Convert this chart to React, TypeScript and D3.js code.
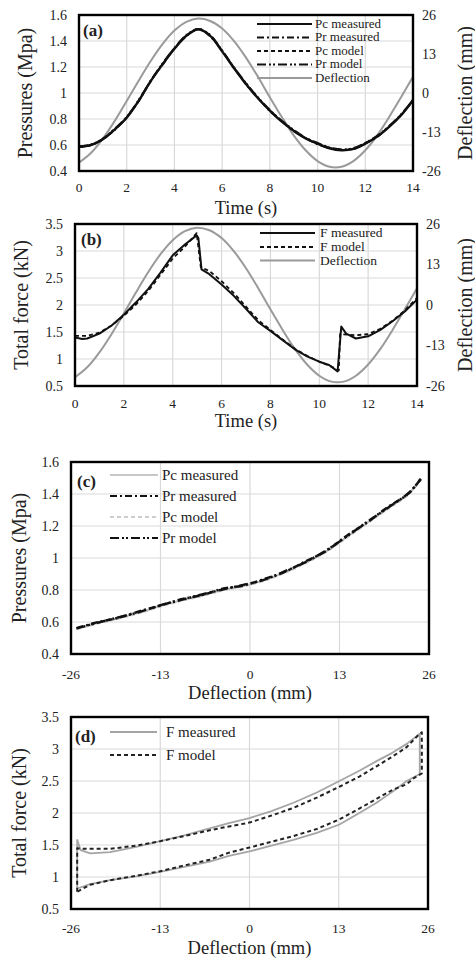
import React from "react";
import * as d3 from "d3";

// ---------- DATA ----------
const timeTicks = [0, 2, 4, 6, 8, 10, 12, 14];
const deflTicks = [-26, -13, 0, 13, 26];
const pressureTicks = [0.4, 0.6, 0.8, 1.0, 1.2, 1.4, 1.6];
const forceTicks = [0.5, 1.0, 1.5, 2.0, 2.5, 3.0, 3.5];

// panel (a) / (b) time base
const time = [0, 0.5, 1, 1.5, 2, 2.5, 3, 3.5, 4, 4.5, 5, 5.5, 6, 6.5, 7, 7.5, 8, 8.5, 9, 9.5, 10, 10.5, 11, 11.5, 12, 12.5, 13, 13.5, 14];
const deflection = [-23.2, -20.0, -15.2, -9.3, -2.7, 4.1, 10.6, 16.3, 20.8, 23.7, 24.8, 24.0, 21.5, 17.3, 11.8, 5.4, -1.4, -8.0, -14.1, -19.1, -22.7, -24.6, -24.6, -22.7, -19.1, -14.1, -8.0, -1.4, 5.4];

const pcMeasuredA = [0.587, 0.600, 0.645, 0.720, 0.810, 0.940, 1.090, 1.220, 1.340, 1.440, 1.490, 1.440, 1.320, 1.190, 1.070, 0.960, 0.865, 0.780, 0.710, 0.650, 0.610, 0.575, 0.560, 0.570, 0.610, 0.665, 0.740, 0.830, 0.945];
const prMeasuredA = [0.590, 0.598, 0.650, 0.715, 0.818, 0.935, 1.095, 1.215, 1.345, 1.435, 1.495, 1.435, 1.325, 1.195, 1.065, 0.965, 0.860, 0.785, 0.705, 0.655, 0.605, 0.578, 0.565, 0.568, 0.615, 0.662, 0.745, 0.828, 0.950];
const pcModelA = [0.585, 0.600, 0.642, 0.722, 0.812, 0.942, 1.088, 1.222, 1.342, 1.442, 1.488, 1.442, 1.322, 1.192, 1.072, 0.962, 0.866, 0.782, 0.712, 0.652, 0.612, 0.577, 0.562, 0.572, 0.612, 0.667, 0.742, 0.832, 0.942];
const prModelA = [0.588, 0.603, 0.647, 0.725, 0.815, 0.945, 1.091, 1.225, 1.345, 1.445, 1.491, 1.445, 1.325, 1.195, 1.075, 0.965, 0.869, 0.785, 0.715, 0.655, 0.615, 0.580, 0.565, 0.575, 0.615, 0.670, 0.745, 0.835, 0.945];

// panel (b)
const timeFMeasured = [0, 0.3, 0.5, 1, 1.5, 2, 2.5, 3, 3.5, 4, 4.5, 4.98, 5.05, 5.18, 5.5, 6, 6.5, 7, 7.5, 8, 8.5, 9, 9.5, 10, 10.4, 10.75, 10.9, 11.1, 11.5, 12, 12.5, 13, 13.5, 14];
const fMeasured = [1.40, 1.37, 1.38, 1.47, 1.62, 1.82, 2.05, 2.30, 2.60, 2.92, 3.12, 3.29, 3.24, 2.66, 2.57, 2.38, 2.17, 1.93, 1.68, 1.52, 1.35, 1.18, 1.05, 0.95, 0.89, 0.77, 1.60, 1.47, 1.38, 1.42, 1.54, 1.70, 1.88, 2.10];
const timeFModel = [0, 0.5, 1, 1.5, 2, 2.5, 3, 3.5, 4, 4.5, 4.98, 5.15, 5.5, 6, 6.5, 7, 7.5, 8, 8.5, 9, 9.5, 10, 10.5, 10.8, 10.85, 11.5, 12, 12.5, 13, 13.5, 14];
const fModel = [1.43, 1.43, 1.49, 1.62, 1.80, 2.01, 2.26, 2.56, 2.86, 3.08, 3.33, 2.70, 2.63, 2.44, 2.22, 1.97, 1.72, 1.54, 1.36, 1.19, 1.06, 0.95, 0.86, 0.79, 1.46, 1.44, 1.46, 1.56, 1.71, 1.90, 2.13];

// panel (c)
const deflC = [-25.2, -22, -19, -16, -13, -10, -7, -4, -1, 2, 5, 8, 11, 14, 17, 20, 23, 24.8];
const pcMeasuredC = [0.558, 0.595, 0.625, 0.660, 0.700, 0.735, 0.765, 0.800, 0.825, 0.860, 0.910, 0.970, 1.040, 1.130, 1.220, 1.310, 1.400, 1.490];
const prMeasuredC = [0.562, 0.600, 0.628, 0.668, 0.703, 0.742, 0.768, 0.808, 0.828, 0.868, 0.912, 0.978, 1.042, 1.138, 1.222, 1.318, 1.402, 1.495];
const pcModelC = [0.555, 0.592, 0.622, 0.657, 0.697, 0.732, 0.762, 0.797, 0.822, 0.857, 0.906, 0.966, 1.036, 1.126, 1.216, 1.306, 1.396, 1.488];
const prModelC = [0.560, 0.597, 0.630, 0.663, 0.705, 0.738, 0.772, 0.803, 0.832, 0.863, 0.916, 0.973, 1.046, 1.133, 1.226, 1.313, 1.405, 1.492];

// panel (d) hysteresis loops
const deflMeasuredD = [-25.1, -25.1, -24.6, -23.2, -20.3, -16.5, -13, -9.5, -5.8, -3, 0, 3.2, 6.4, 9.8, 13.1, 16, 18.5, 20.8, 22.9, 24.8, 24.8, 22.9, 20.8, 18.5, 16, 13.1, 9.8, 6.4, 3.2, 0, -3, -5.8, -9.5, -13, -16.5, -20.3, -23.2, -25.1];
const fMeasuredD = [0.82, 1.58, 1.42, 1.37, 1.39, 1.47, 1.56, 1.65, 1.76, 1.84, 1.92, 2.03, 2.16, 2.32, 2.50, 2.66, 2.81, 2.94, 3.08, 3.24, 2.61, 2.50, 2.33, 2.16, 2.00, 1.82, 1.69, 1.58, 1.49, 1.40, 1.33, 1.24, 1.16, 1.08, 1.01, 0.95, 0.89, 0.82];
const deflModelD = [-25.1, -25.1, -24, -20.3, -16.5, -13, -9.5, -5.8, -3, 0, 3.2, 6.4, 9.8, 13.1, 16, 18.5, 20.8, 22.9, 24.8, 25.1, 25.1, 24.0, 22.9, 20.8, 18.5, 16, 13.1, 9.8, 6.4, 3.2, 0, -3, -5.8, -9.5, -13, -16.5, -20.3, -23.2, -25.1];
const fModelD = [0.77, 1.45, 1.44, 1.44, 1.49, 1.56, 1.64, 1.73, 1.79, 1.85, 1.96, 2.08, 2.24, 2.41, 2.57, 2.73, 2.88, 3.03, 3.24, 3.26, 2.62, 2.55, 2.45, 2.36, 2.22, 2.07, 1.90, 1.75, 1.64, 1.55, 1.46, 1.38, 1.27, 1.18, 1.09, 1.02, 0.95, 0.88, 0.77];

// ---------- STYLES ----------
const FONT = '"Liberation Serif", "Times New Roman", Times, serif';
type LStyle = { stroke: string; width: number; dash?: string };
const S_SOLID: LStyle = { stroke: "#111", width: 2 };
const S_DASHDOT: LStyle = { stroke: "#111", width: 1.8, dash: "7,3,2,3" };
const S_DASH: LStyle = { stroke: "#111", width: 1.8, dash: "4,3" };
const S_DASHDOTDOT: LStyle = { stroke: "#111", width: 2.2, dash: "9,3,2,2,2,3" };
const S_DEFL: LStyle = { stroke: "#9a9a9a", width: 2 };
const S_LIGHT: LStyle = { stroke: "#b5b5b5", width: 1.6 };
const S_LIGHTDASH: LStyle = { stroke: "#bdbdbd", width: 1.6, dash: "4,3" };
const S_GRAYMEAS: LStyle = { stroke: "#a5a5a5", width: 1.8 };
const S_MODELDASH: LStyle = { stroke: "#222", width: 2, dash: "4,3" };

type Series = { x: number[]; y: number[]; style: LStyle; right?: boolean; curve?: "smooth" | "linear"; width?: number };
type LegendRow = { y: number; text: string; style: LStyle };

interface PanelProps {
  id: string;
  L: number; R: number; T: number; B: number;
  xDomain: [number, number]; xTicks: number[];
  yDomain: [number, number]; yTicks: number[];
  rightTicks?: number[];
  xTitle: string; yTitle: string; rightTitle?: string;
  label: string; labelX: number; labelY: number;
  legendX1: number; legendX2: number; legendTX: number; legend: LegendRow[]; legendFont: number;
  series: Series[];
  xLabelDy: number; xTitleDy: number; yTitleX: number;
}

const fmt = (v: number) => String(+v.toFixed(2));

function Panel(p: PanelProps) {
  const x = d3.scaleLinear().domain(p.xDomain).range([p.L, p.R]);
  const y = d3.scaleLinear().domain(p.yDomain).range([p.B, p.T]);
  const yR = d3.scaleLinear().domain([-26, 26]).range([p.B, p.T]);
  const cy = (p.T + p.B) / 2;
  return (
    <g>
      <defs>
        <clipPath id={`clip-${p.id}`}>
          <rect x={p.L} y={p.T - 2} width={p.R - p.L} height={p.B - p.T + 4} />
        </clipPath>
      </defs>
      {p.yTicks.map((t) => (
        <line key={"gy" + t} x1={p.L} x2={p.R} y1={y(t)} y2={y(t)} stroke="#d9d9d9" strokeWidth={1.2} />
      ))}
      {p.xTicks.map((t) => (
        <line key={"gx" + t} x1={x(t)} x2={x(t)} y1={p.T} y2={p.B} stroke="#d9d9d9" strokeWidth={1.2} />
      ))}
      <g clipPath={`url(#clip-${p.id})`}>
        {p.series.map((s, i) => {
          const ys = s.right ? yR : y;
          const gen = d3
            .line<number>()
            .x((_, k) => x(s.x[k]))
            .y((v) => ys(v))
            .curve(s.curve === "linear" ? d3.curveLinear : d3.curveCatmullRom.alpha(0.5));
          return (
            <path key={i} d={gen(s.y) || ""} fill="none" stroke={s.style.stroke} strokeWidth={s.width ?? s.style.width}
              strokeDasharray={s.style.dash} strokeLinejoin="round" />
          );
        })}
      </g>
      <rect x={p.L} y={p.T} width={p.R - p.L} height={p.B - p.T} fill="none" stroke="#000" strokeWidth={2.4} />
      <text x={p.labelX} y={p.labelY} fontFamily={FONT} fontSize={17} fontWeight="bold" fill="#222">{p.label}</text>
      {p.legend.map((r) => (
        <g key={r.text}>
          <line x1={p.legendX1} x2={p.legendX2} y1={r.y} y2={r.y} stroke={r.style.stroke} strokeWidth={r.style.width}
            strokeDasharray={r.style.dash} />
          <text x={p.legendTX} y={r.y + p.legendFont * 0.3} fontFamily={FONT} fontSize={p.legendFont} fill="#222">{r.text}</text>
        </g>
      ))}
      {p.yTicks.map((t) => (
        <text key={"yl" + t} x={p.L - 12} y={y(t)} dy="0.35em" textAnchor="end" fontFamily={FONT} fontSize={14} fill="#222">
          {fmt(t)}
        </text>
      ))}
      {p.rightTicks &&
        p.rightTicks.map((t) => (
          <text key={"rl" + t} x={p.R + 9} y={yR(t)} dy="0.35em" textAnchor="start" fontFamily={FONT} fontSize={14} fill="#222">
            {fmt(t)}
          </text>
        ))}
      {p.xTicks.map((t) => (
        <text key={"xl" + t} x={x(t)} y={p.B + p.xLabelDy} textAnchor="middle" fontFamily={FONT} fontSize={13.5} fill="#222">
          {fmt(t)}
        </text>
      ))}
      <text x={(p.L + p.R) / 2} y={p.B + p.xTitleDy} textAnchor="middle" fontFamily={FONT} fontSize={18.5} fill="#222">
        {p.xTitle}
      </text>
      <text transform={`translate(${p.yTitleX},${cy}) rotate(-90)`} textAnchor="middle" dy="0.35em" fontFamily={FONT} fontSize={20} fill="#222">
        {p.yTitle}
      </text>
      {p.rightTitle && (
        <text transform={`translate(465,${cy}) rotate(-90)`} textAnchor="middle" dy="0.35em" fontFamily={FONT} fontSize={20} fill="#222">
          {p.rightTitle}
        </text>
      )}
    </g>
  );
}

export default function App() {
  return (
    <svg width={475} height={959} viewBox="0 0 475 959"
      style={{ position: "absolute", left: 0, top: 0, background: "#fff" }}>
      <rect x={0} y={0} width={475} height={959} fill="#fff" />
      <Panel
        id="a" L={79} R={413} T={15} B={171}
        xDomain={[0, 14]} xTicks={timeTicks}
        yDomain={[0.4, 1.6]} yTicks={pressureTicks} rightTicks={deflTicks}
        xTitle="Time (s)" yTitle="Pressures (Mpa)" rightTitle="Deflection (mm)"
        label="(a)" labelX={83} labelY={36}
        legendX1={257} legendX2={312} legendTX={315} legendFont={13}
        legend={[
          { y: 24, text: "Pc measured", style: S_SOLID },
          { y: 37.5, text: "Pr measured", style: S_DASHDOT },
          { y: 51, text: "Pc model", style: S_DASH },
          { y: 64.5, text: "Pr model", style: S_DASHDOTDOT },
          { y: 78, text: "Deflection", style: S_DEFL },
        ]}
        series={[
          { x: time, y: deflection, style: S_DEFL, right: true },
          { x: time, y: pcMeasuredA, style: S_SOLID, width: 2.4 },
          { x: time, y: prMeasuredA, style: S_DASHDOT },
          { x: time, y: pcModelA, style: S_DASH },
          { x: time, y: prModelA, style: S_DASHDOTDOT },
        ]}
        xLabelDy={21} xTitleDy={43} yTitleX={25}
      />
      <Panel
        id="b" L={75} R={417} T={224} B={386}
        xDomain={[0, 14]} xTicks={timeTicks}
        yDomain={[0.5, 3.5]} yTicks={forceTicks} rightTicks={deflTicks}
        xTitle="Time (s)" yTitle="Total force (kN)" rightTitle="Deflection (mm)"
        label="(b)" labelX={81} labelY={245}
        legendX1={260} legendX2={315} legendTX={320} legendFont={13.5}
        legend={[
          { y: 233, text: "F measured", style: S_SOLID },
          { y: 247, text: "F model", style: S_DASH },
          { y: 260.5, text: "Deflection", style: S_DEFL },
        ]}
        series={[
          { x: time, y: deflection, style: S_DEFL, right: true },
          { x: timeFMeasured, y: fMeasured, style: S_SOLID, curve: "linear" },
          { x: timeFModel, y: fModel, style: S_DASH, curve: "linear" },
        ]}
        xLabelDy={22} xTitleDy={41} yTitleX={21}
      />
      <Panel
        id="c" L={71} R={429} T={462} B={654}
        xDomain={[-26, 26]} xTicks={deflTicks}
        yDomain={[0.4, 1.6]} yTicks={pressureTicks}
        xTitle="Deflection (mm)" yTitle="Pressures (Mpa)"
        label="(c)" labelX={77} labelY={487}
        legendX1={110} legendX2={158} legendTX={162} legendFont={15}
        legend={[
          { y: 475, text: "Pc measured", style: S_LIGHT },
          { y: 496, text: "Pr measured", style: S_DASHDOT },
          { y: 517, text: "Pc model", style: S_LIGHTDASH },
          { y: 538, text: "Pr model", style: S_DASHDOTDOT },
        ]}
        series={[
          { x: deflC, y: pcMeasuredC, style: S_LIGHT, width: 2 },
          { x: deflC, y: pcModelC, style: S_LIGHTDASH, width: 2 },
          { x: deflC, y: prMeasuredC, style: S_DASHDOT, width: 2.4 },
          { x: deflC, y: prModelC, style: S_DASHDOTDOT, width: 2.4 },
        ]}
        xLabelDy={25} xTitleDy={45} yTitleX={19}
      />
      <Panel
        id="d" L={71} R={428} T={717} B={909}
        xDomain={[-26, 26]} xTicks={deflTicks}
        yDomain={[0.5, 3.5]} yTicks={forceTicks}
        xTitle="Deflection (mm)" yTitle="Total force (kN)"
        label="(d)" labelX={75} labelY={742}
        legendX1={110} legendX2={157} legendTX={166} legendFont={15}
        legend={[
          { y: 732, text: "F measured", style: S_GRAYMEAS },
          { y: 755, text: "F model", style: S_MODELDASH },
        ]}
        series={[
          { x: deflMeasuredD, y: fMeasuredD, style: S_GRAYMEAS, curve: "linear" },
          { x: deflModelD, y: fModelD, style: S_MODELDASH, curve: "linear" },
        ]}
        xLabelDy={24} xTitleDy={45} yTitleX={19}
      />
    </svg>
  );
}
